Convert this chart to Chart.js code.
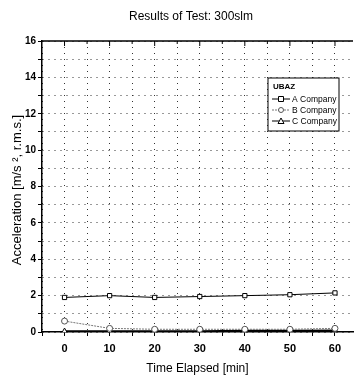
<!DOCTYPE html>
<html>
<head>
<meta charset="utf-8">
<script src="https://cdn.jsdelivr.net/npm/chart.js@4.4.0/dist/chart.umd.min.js"></script>
<style>
  html, body { margin: 0; padding: 0; background: #fff; }
  #wrap { width: 358px; height: 380px; position: relative; }
</style>
</head>
<body>
<div id="wrap"><canvas id="myChart"></canvas></div>
<script>
const minutes = [0, 10, 20, 30, 40, 50, 60];
const companyA = [1.9, 2.0, 1.9, 1.95, 2.0, 2.05, 2.15];
const companyB = [0.6, 0.2, 0.15, 0.15, 0.15, 0.15, 0.2];
const companyC = [0.05, 0.05, 0.05, 0.05, 0.08, 0.08, 0.1];
const seriesNames = ['A Company', 'B Company', 'C Company'];
const legendTitle = 'UBAZ';
const chartTitle = 'Results of Test: 300slm';
const yTitle = 'Acceleration [m/s ², r.m.s.]';

const FONT = "'Liberation Sans Narrow', 'Liberation Sans', Arial, sans-serif";

function pts(vals) {
    return vals.map((v, i) => ({ x: minutes[i], y: v }));
}

// top border, titles and the boxed legend
const extras = {
    id: 'extras',
    afterDraw(chart) {
        const ctx = chart.ctx;
        const a = chart.chartArea;
        ctx.save();
        ctx.strokeStyle = '#000';
        ctx.lineWidth = 1.5;
        ctx.beginPath();
        ctx.moveTo(a.left, a.top);
        ctx.lineTo(a.right, a.top);
        ctx.stroke();

        // tick marks on the top edge
        const xs = chart.scales.x;
        ctx.lineWidth = 1;
        for (let m = 0; m <= 60; m += 5) {
            const px = xs.getPixelForValue(m);
            ctx.beginPath();
            ctx.moveTo(px, a.top);
            ctx.lineTo(px, a.top + (m % 10 === 0 ? 5 : 3));
            ctx.stroke();
        }

        ctx.fillStyle = '#000';
        ctx.font = '12px ' + FONT;
        ctx.textAlign = 'center';
        ctx.textBaseline = 'middle';
        ctx.fillText(chartTitle, 191, 17);

        // y axis title
        ctx.save();
        ctx.translate(17, 190);
        ctx.rotate(-Math.PI / 2);
        ctx.font = '13px ' + FONT;
        ctx.fillText(yTitle, 0, 0);
        ctx.restore();

        // legend box
        const bx = 268, by = 78, bw = 71, bh = 53;
        ctx.fillStyle = '#fff';
        ctx.fillRect(bx, by, bw, bh);
        ctx.strokeStyle = '#000';
        ctx.lineWidth = 1;
        ctx.strokeRect(bx, by, bw, bh);
        ctx.fillStyle = '#000';
        ctx.textAlign = 'left';
        ctx.font = 'bold 8px ' + FONT;
        ctx.fillText(legendTitle, bx + 5, by + 9);
        ctx.font = '8.5px ' + FONT;
        chart.data.datasets.forEach((ds, i) => {
            const y = by + 21 + i * 11;
            ctx.strokeStyle = ds.borderColor;
            ctx.setLineDash(ds.borderDash || []);
            ctx.beginPath();
            ctx.moveTo(bx + 4, y);
            ctx.lineTo(bx + 22, y);
            ctx.stroke();
            ctx.setLineDash([]);
            ctx.strokeStyle = ds.pointBorderColor;
            ctx.fillStyle = '#fff';
            const cx = bx + 13, r = 2.5;
            ctx.beginPath();
            if (ds.pointStyle === 'rect') {
                ctx.rect(cx - r, y - r, 2 * r, 2 * r);
            } else if (ds.pointStyle === 'triangle') {
                ctx.moveTo(cx, y - r - 0.5);
                ctx.lineTo(cx + r + 0.5, y + r);
                ctx.lineTo(cx - r - 0.5, y + r);
                ctx.closePath();
            } else {
                ctx.arc(cx, y, r, 0, Math.PI * 2);
            }
            ctx.fill();
            ctx.stroke();
            ctx.fillStyle = '#000';
            ctx.fillText(ds.label, bx + 24, y + 0.5);
        });
        ctx.restore();
    }
};

const ctx = document.getElementById('myChart');

new Chart(ctx, {
    type: 'line',
    data: {
        datasets: [
            {
                label: seriesNames[0],
                data: pts(companyA),
                borderColor: '#000',
                borderWidth: 1,
                pointStyle: 'rect',
                pointRadius: 3,
                pointBackgroundColor: '#fff',
                pointBorderColor: '#000',
                pointBorderWidth: 1
            },
            {
                label: seriesNames[1],
                data: pts(companyB),
                borderColor: '#777',
                borderWidth: 1,
                borderDash: [2, 1],
                pointStyle: 'circle',
                pointRadius: 3,
                pointBackgroundColor: '#fff',
                pointBorderColor: '#555',
                pointBorderWidth: 1
            },
            {
                label: seriesNames[2],
                data: pts(companyC),
                borderColor: '#000',
                borderWidth: 1.5,
                pointStyle: 'triangle',
                pointRadius: 3,
                pointBackgroundColor: '#fff',
                pointBorderColor: '#000',
                pointBorderWidth: 1
            }
        ]
    },
    options: {
        responsive: true,
        maintainAspectRatio: false,
        animation: false,
        layout: { padding: { top: 41, right: 2, left: 0, bottom: 0 } },
        plugins: {
            legend: { display: false },
            title: { display: false },
            tooltip: { enabled: false }
        },
        scales: {
            x: {
                type: 'linear',
                min: -5,
                max: 64,
                afterFit: s => { s.height = 48; },
                afterBuildTicks: s => {
                    s.ticks = [];
                    for (let m = -5; m <= 60; m += 5) s.ticks.push({ value: m });
                },
                border: { color: '#000', width: 1.5, dash: [1, 5] },
                grid: {
                    color: '#333',
                    tickBorderDash: [],
                    tickColor: '#000',
                    tickLength: 4,
                    drawOnChartArea: true
                },
                ticks: {
                    color: '#000',
                    padding: 6,
                    maxRotation: 0,
                    autoSkip: false,
                    font: { family: FONT, size: 11, weight: 'bold' },
                    callback: v => (v % 10 === 0 ? String(v) : '')
                },
                title: {
                    display: true,
                    text: 'Time Elapsed [min]',
                    color: '#000',
                    font: { family: FONT, size: 12 },
                    padding: { top: 3 }
                }
            },
            y: {
                min: 0,
                max: 16,
                afterFit: s => { s.width = 42; },
                afterBuildTicks: s => {
                    s.ticks = [];
                    for (let v = 0; v <= 16; v += 1) s.ticks.push({ value: v });
                },
                border: { color: '#000', width: 1.5, dash: [1, 5] },
                grid: {
                    color: '#333',
                    tickBorderDash: [],
                    tickColor: '#000',
                    tickLength: 4
                },
                ticks: {
                    color: '#000',
                    padding: 2,
                    autoSkip: false,
                    font: { family: FONT, size: 10, weight: 'bold' },
                    callback: v => (v % 2 === 0 ? String(v) : '')
                },
                title: { display: false }
            }
        }
    },
    plugins: [extras]
});
</script>
</body>
</html>
